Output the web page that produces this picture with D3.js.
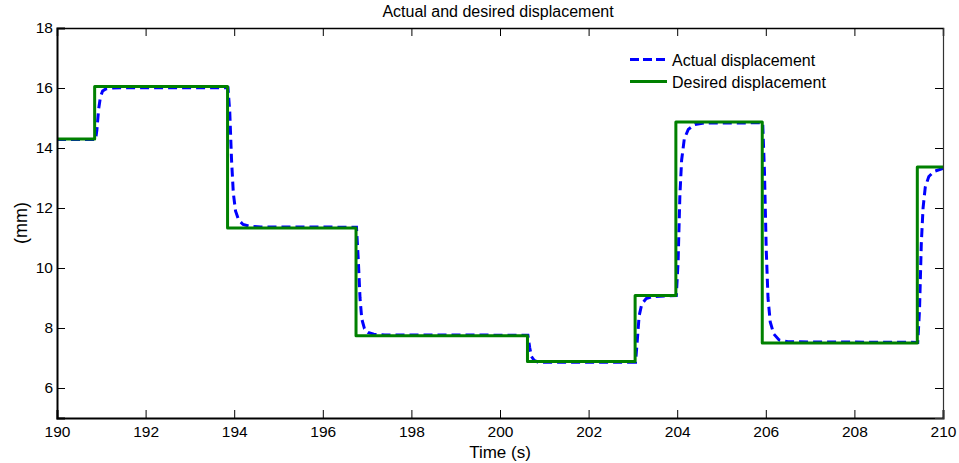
<!DOCTYPE html>
<html><head><meta charset="utf-8">
<script src="https://cdn.jsdelivr.net/npm/d3@7"></script>
<style>body{margin:0;background:#fff}svg{display:block}text{font-family:"Liberation Sans",Arial,sans-serif;fill:#000}</style>
</head><body>
<svg id="c" width="959" height="463"></svg>
<script>
const title = "Actual and desired displacement";
const xLabel = "Time (s)";
const yLabel = "(mm)";
const xTicks = [190,192,194,196,198,200,202,204,206,208,210];
const yTicks = [6,8,10,12,14,16,18];
const seriesNames = ["Actual displacement","Desired displacement"];
// Desired displacement: step times and levels
const desiredT = [190, 190.85, 190.85, 193.85, 193.85, 196.75, 196.75, 200.62, 200.62, 203.05, 203.05, 203.97, 203.97, 205.92, 205.92, 209.42, 209.42, 210];
const desiredY = [14.3, 14.3, 16.05, 16.05, 11.33, 11.33, 7.74, 7.74, 6.88, 6.88, 9.08, 9.08, 14.87, 14.87, 7.5, 7.5, 13.37, 13.37];
// Actual displacement: sampled points
const actualT = [190, 190.87, 190.9, 190.94, 190.98, 191.03, 191.1, 191.25, 191.5, 193.86,
  193.9, 193.94, 193.98, 194.03, 194.1, 194.2, 194.35, 194.6, 196.76,
  196.8, 196.84, 196.88, 196.94, 197.02, 197.15, 197.4, 200.63,
  200.67, 200.71, 200.77, 200.85, 201.0, 203.06,
  203.1, 203.14, 203.2, 203.3, 203.45, 203.98,
  204.02, 204.06, 204.1, 204.16, 204.25, 204.4, 204.6, 205.93,
  205.97, 206.01, 206.05, 206.1, 206.18, 206.3, 206.5, 209.43,
  209.47, 209.51, 209.55, 209.6, 209.68, 209.8, 210];
const actualY = [14.28, 14.28, 14.6, 15.3, 15.7, 15.9, 15.97, 16.0, 16.01, 16.01,
  15.2, 13.6, 12.5, 11.9, 11.6, 11.45, 11.39, 11.37, 11.36,
  10.3, 9.0, 8.3, 7.98, 7.85, 7.79, 7.77, 7.76,
  7.35, 7.05, 6.92, 6.87, 6.86, 6.86,
  7.6, 8.4, 8.8, 8.98, 9.05, 9.08,
  10.2, 12.4, 13.6, 14.3, 14.62, 14.78, 14.83, 14.84,
  13.2, 10.6, 9.0, 8.2, 7.8, 7.6, 7.54, 7.52,
  8.6, 10.8, 12.0, 12.7, 13.05, 13.22, 13.32];

const svg = d3.select("#c");
const L = 57, R = 943, T = 28, B = 418;
const x = d3.scaleLinear().domain([190,210]).range([L,R]);
const y = d3.scaleLinear().domain([5,18]).range([B,T]);
const tickLen = 8;
const FF = "Liberation Sans, Arial, sans-serif";

// lines
const line = d3.line().x(d=>x(d[0])).y(d=>y(d[1]));
const actual = actualT.map((t,i)=>[t,actualY[i]]);
const desired = desiredT.map((t,i)=>[t,desiredY[i]]);
svg.append("defs").append("clipPath").attr("id","cp").append("rect").attr("x",L).attr("y",T).attr("width",R-L).attr("height",B-T);
const g = svg.append("g").attr("clip-path","url(#cp)");
g.append("path").datum(actual).attr("d",line).attr("fill","none").attr("stroke","#0000ff").attr("stroke-width",3).attr("stroke-dasharray","9,5");
g.append("path").datum(desired).attr("d",line).attr("fill","none").attr("stroke","#008000").attr("stroke-width",3).attr("stroke-linejoin","round");

// axes
const fs = "15.5px";
const xb = svg.append("g").attr("transform",`translate(0,${B})`).call(d3.axisBottom(x).tickValues(xTicks).tickFormat(d3.format("d")).tickSize(-tickLen).tickPadding(8));
const xt = svg.append("g").attr("transform",`translate(0,${T})`).call(d3.axisTop(x).tickValues(xTicks).tickFormat("").tickSize(-tickLen));
const yl = svg.append("g").attr("transform",`translate(${L},0)`).call(d3.axisLeft(y).tickValues(yTicks).tickFormat(d3.format("d")).tickSize(-tickLen).tickPadding(4));
const yr = svg.append("g").attr("transform",`translate(${R},0)`).call(d3.axisRight(y).tickValues(yTicks).tickFormat("").tickSize(-tickLen));
[xb,xt,yl,yr].forEach(a=>{
  a.select(".domain").attr("stroke","#000").attr("stroke-width",2);
  a.selectAll(".tick line").attr("stroke","#000").attr("stroke-width",1);
  a.selectAll("text").style("font-size",fs).style("font-family",FF).attr("fill","#000");
});
xt.select(".domain").attr("stroke-width",1.5);
yr.select(".domain").attr("stroke-width",1.2).attr("stroke","#333");

// titles
svg.append("text").attr("x",498).attr("y",17).attr("text-anchor","middle").style("font-size","16px").text(title);
svg.append("text").attr("x",(L+R)/2).attr("y",458).attr("text-anchor","middle").style("font-size","17px").text(xLabel);
svg.append("text").attr("transform",`translate(27,${(T+B)/2}) rotate(-90)`).attr("text-anchor","middle").style("font-size","18px").text(yLabel);

// legend
const leg = svg.append("g");
const legY = [59.5, 81.5];
leg.append("line").attr("x1",630).attr("x2",667).attr("y1",legY[0]).attr("y2",legY[0]).attr("stroke","#0000ff").attr("stroke-width",3).attr("stroke-dasharray","9,4");
leg.append("line").attr("x1",630).attr("x2",667).attr("y1",legY[1]).attr("y2",legY[1]).attr("stroke","#008000").attr("stroke-width",3);
seriesNames.forEach((n,i)=>leg.append("text").attr("x",672).attr("y",legY[i]+6).style("font-size","16px").text(n));
</script>
</body></html>
